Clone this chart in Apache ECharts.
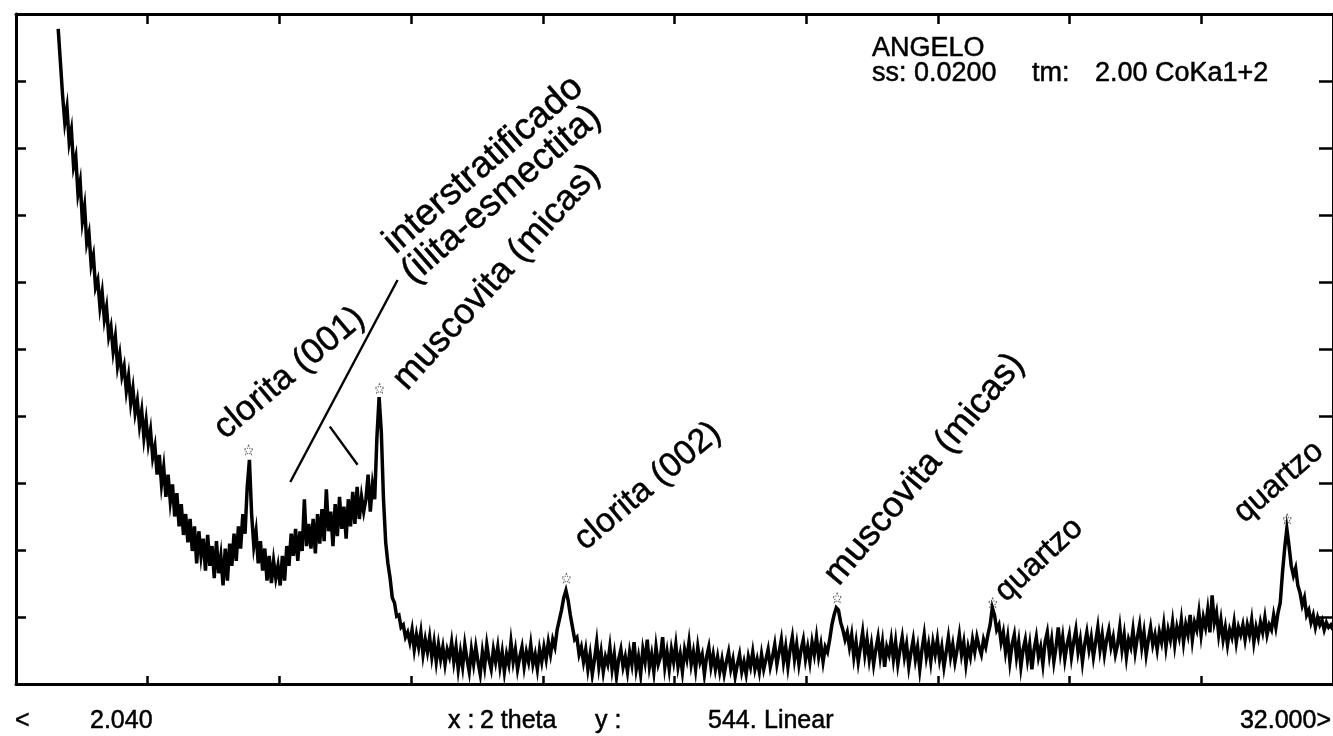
<!DOCTYPE html>
<html><head><meta charset="utf-8">
<script src="https://cdn.jsdelivr.net/npm/echarts@6/dist/echarts.min.js"></script>
<style>html,body{margin:0;padding:0;background:#fff;} #c{width:1333px;height:736px;}</style>
</head><body><div id="c"></div>
<script>
// ---- data ----
const scanStart = 3.00;   // first 2-theta value of the trace
const scanStep = 0.05;    // 2-theta step between values
const intensity = [
 532,505,478,456,468,440,450,420,428,398,408,376,388,358,366,340,348,322,328,306,
 318,296,306,282,290,270,282,258,268,250,258,238,250,228,240,220,230,210,222,200,
 214,195,206,184,193,170,186,162,176,152,170,148,162,136,155,128,146,121,138,115,
 134,108,128,98,124,104,118,92,121,96,112,86,116,90,104,80,110,84,114,96,
 122,100,128,110,138,122,160,182,138,112,124,98,116,92,110,84,104,82,100,86,
 96,80,104,84,112,96,122,104,126,100,124,108,150,112,130,110,134,106,138,114,
 142,116,158,124,140,112,146,120,152,126,144,118,150,128,156,130,160,134,152,140,
 150,170,140,162,150,200,233,205,150,115,98,86,70,66,55,56,46,48,38,42,
 34,44,28,40,30,42,24,36,26,38,22,34,18,32,20,30,16,28,22,34,
 18,30,12,26,14,32,20,10,28,16,30,18,8,26,14,32,20,12,28,18,
 30,14,26,10,24,16,34,18,28,12,22,30,14,26,18,32,16,24,12,28,
 18,30,20,34,24,36,30,44,52,60,70,76,68,56,46,36,38,24,30,18,
 28,12,24,8,20,34,14,26,10,22,16,30,12,24,6,20,28,14,22,10,
 26,16,34,12,22,8,28,18,36,14,24,10,30,16,22,38,14,26,12,28,
 18,32,14,24,10,28,20,34,16,26,12,30,18,24,8,22,30,14,24,12,
 22,10,20,8,18,26,12,20,6,16,24,10,18,8,22,14,26,12,20,10,
 24,12,20,28,14,22,32,16,26,36,18,30,14,28,38,20,32,16,28,36,
 20,30,18,34,24,38,22,32,18,30,26,36,48,56,62,60,50,44,36,42,
 30,40,22,34,18,30,42,24,36,20,32,16,28,38,22,34,14,30,24,36,
 20,34,16,28,38,22,32,14,26,36,20,30,12,28,40,22,32,18,34,24,
 36,20,30,14,26,38,22,32,18,28,40,24,34,16,30,22,36,26,38,30,
 24,36,30,40,48,62,56,44,48,34,42,26,38,18,32,40,22,34,14,28,
 36,20,32,12,28,38,22,30,16,34,42,24,36,18,30,46,26,38,20,32,
 40,22,34,44,26,36,18,32,42,28,38,22,34,46,28,40,24,36,44,30,
 38,24,32,46,28,40,22,36,30,44,26,38,48,30,42,24,36,46,32,40,
 28,42,34,48,30,44,36,50,32,46,38,52,34,48,40,56,36,50,44,58,
 40,54,46,60,42,72,50,58,40,52,36,46,32,44,38,50,34,46,40,48,
 36,48,40,52,34,46,38,50,42,54,40,48,44,56,46,58,66,90,110,126,
 112,96,88,94,80,74,64,70,56,60,50,56,46,54,48,52,44,50,46,48,
 44
];
const xRange = [2.04, 32.0];
const yMax = 544;
const divisions = 10;
const peakMarkTheta  = [7.33, 10.31, 14.56, 20.72, 24.26, 30.96];
const peakMarkCounts = [190, 240, 86, 70, 66, 134];
const leaderMain   = [[8.28, 164], [10.72, 328]];
const leaderBranch = [[9.18, 209], [9.81, 178]];
const headerTexts = ['ANGELO', 'ss: 0.0200', 'tm:', '2.00 CoKa1+2'];
const footerTexts = ['<', '2.040', 'x :', '2 theta', 'y :', '544.', 'Linear', '32.000>'];
const annotationTexts = ['clorita (001)', 'interstratificado', '(ilita-esmectita)', 'muscovita (micas)',
                         'clorita (002)', 'muscovita (micas)', 'quartzo', 'quartzo'];

// ---- chart ----
const chart = echarts.init(document.getElementById('c'), null, {renderer: 'canvas'});
const trace = intensity.map((v, i) => [+(scanStart + i * scanStep).toFixed(2), v]);
const marks = peakMarkTheta.map((t, i) => [t, peakMarkCounts[i]]);

const frameX = (pos, len) => ({
  type: 'value', position: pos, min: 0, max: divisions, interval: 1,
  axisLine: {show: true, onZero: false, lineStyle: {color: '#000', width: 3}},
  axisTick: {show: true, inside: true, length: len, lineStyle: {color: '#000', width: 2.5}},
  axisLabel: {show: false}, splitLine: {show: false}
});
const frameY = (pos, len) => ({
  type: 'value', position: pos, min: 0, max: yMax, interval: yMax / divisions,
  axisLine: {show: true, onZero: false, lineStyle: {color: '#000', width: 3}},
  axisTick: {show: true, inside: true, length: len, lineStyle: {color: '#000', width: 2.5}},
  axisLabel: {show: false}, splitLine: {show: false}
});

const FONT = '"Liberation Sans", Arial, sans-serif';
const txt = (text, x, y, size, rot, align) => ({
  type: 'text', x: x, y: y, rotation: (rot || 0) * Math.PI / 180, z: 100,
  style: {text: text, fill: '#000', font: size + 'px ' + FONT,
          stroke: '#000', lineWidth: 0.5,
          textAlign: align || 'left', textVerticalAlign: rot ? 'bottom' : 'top',
          align: align || 'left', verticalAlign: rot ? 'bottom' : 'top'}
});

const HF = 27, FF = 25;
const graphics = [
  txt(headerTexts[0], 872, 35, HF),
  txt(headerTexts[1], 872, 60, HF),
  txt(headerTexts[2], 1032, 60, HF),
  txt(headerTexts[3], 1095, 60, HF),
  txt(footerTexts[0], 15, 709, FF),
  txt(footerTexts[1], 90, 709, FF),
  txt(footerTexts[2], 448, 709, FF),
  txt(footerTexts[3], 480, 709, FF),
  txt(footerTexts[4], 595, 709, FF),
  txt(footerTexts[5], 708, 709, FF),
  txt(footerTexts[6], 764, 709, FF),
  txt(footerTexts[7], 1331, 709, FF, 0, 'right'),
  txt(annotationTexts[0], 230, 446, 35, 40),
  txt(annotationTexts[1], 401, 261, 37, 41),
  txt(annotationTexts[2], 419, 291, 37, 41),
  txt(annotationTexts[3], 413, 397, 36, 48),
  txt(annotationTexts[4], 590, 557, 34, 40),
  txt(annotationTexts[5], 845, 592, 36, 50),
  txt(annotationTexts[6], 1011, 608, 32, 43),
  txt(annotationTexts[7], 1249, 529, 32, 41)
];

const option = {
  animation: false,
  backgroundColor: '#fff',
  grid: {left: 16, top: 14, right: -7, bottom: 52, containLabel: false},
  xAxis: [
    {type: 'value', min: xRange[0], max: xRange[1], show: false},
    frameX('bottom', 8),
    frameX('top', 10)
  ],
  yAxis: [frameY('left', 10), frameY('right', 14)],
  series: [
    {
      type: 'line', xAxisIndex: 0, yAxisIndex: 0, data: trace,
      showSymbol: false, symbol: 'none', silent: true,
      lineStyle: {color: '#000', width: 3.5, join: 'miter'},
      markLine: {
        silent: true, symbol: 'none', label: {show: false},
        lineStyle: {color: '#000', width: 2.4, type: 'solid'},
        data: [
          [{coord: leaderMain[0]}, {coord: leaderMain[1]}],
          [{coord: leaderBranch[0]}, {coord: leaderBranch[1]}]
        ]
      }
    },
    {
      type: 'scatter', xAxisIndex: 0, yAxisIndex: 0, data: marks, silent: true,
      symbol: 'path://M0,-10 L2.9,-4 L9.5,-3.1 L4.7,1.5 L5.9,8.1 L0,5 L-5.9,8.1 L-4.7,1.5 L-9.5,-3.1 L-2.9,-4 Z',
      symbolSize: 9,
      itemStyle: {color: 'rgba(0,0,0,0)', borderColor: '#444', borderWidth: 1.2, borderType: 'dotted'}
    }
  ],
  graphic: graphics
};
chart.setOption(option);
</script>
</body></html>
